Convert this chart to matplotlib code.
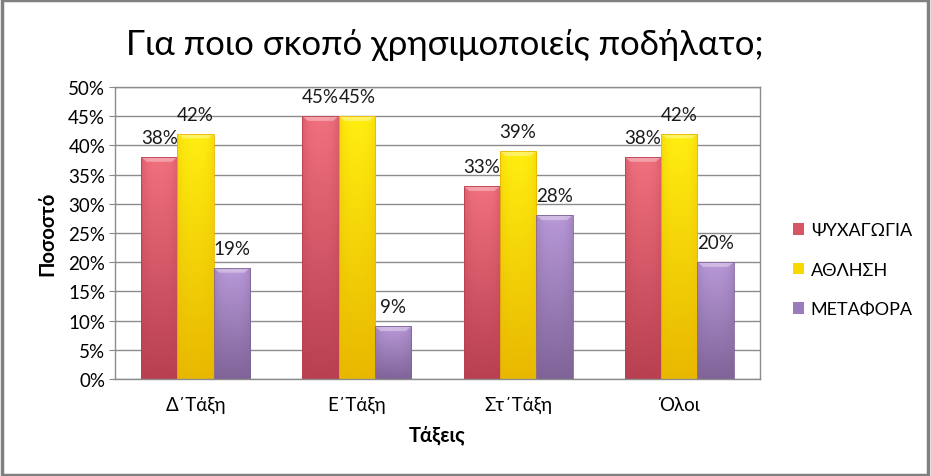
import matplotlib
matplotlib.use("Agg")
import matplotlib.pyplot as plt
import numpy as np
from matplotlib.colors import LinearSegmentedColormap
from matplotlib.patches import Rectangle

plt.rcParams['font.family'] = ['Lato', 'DejaVu Sans']

categories = ["Δ΄Τάξη", "Ε΄Τάξη", "Στ΄Τάξη", "Όλοι"]
series_names = ["ΨΥΧΑΓΩΓΙΑ", "ΑΘΛΗΣΗ", "ΜΕΤΑΦΟΡΑ"]
psychagogia = [38, 45, 33, 38]
athlisi = [42, 45, 39, 42]
metafora = [19, 9, 28, 20]
series_values = [psychagogia, athlisi, metafora]
yticks = [0, 5, 10, 15, 20, 25, 30, 35, 40, 45, 50]

colors_top = ["#F0707E", "#FFEE10", "#B898D8"]
colors_bot = ["#B84050", "#E8B800", "#806498"]
base_colors = ["#D85565", "#F8D800", "#9A7CBA"]

fig = plt.figure(figsize=(9.31, 4.77), dpi=100)
ax = fig.add_axes([0.1235, 0.2034, 0.6928, 0.6121])

x = np.arange(len(categories))
w = 0.225
for i, (vals, name) in enumerate(zip(series_values, series_names)):
    offs = (i - 1) * w
    bars = ax.bar(x + offs, vals, width=w, color=base_colors[i], label=name,
                  edgecolor="none", zorder=2)
    cmap = LinearSegmentedColormap.from_list("g%d" % i, [colors_bot[i], colors_top[i]])
    for b, v in zip(bars, vals):
        x0 = b.get_x(); bw = b.get_width(); h = b.get_height()
        grad = np.linspace(0, 1, 100).reshape(-1, 1)
        horiz = 1 - 0.35 * np.abs(np.linspace(-1, 1, 50)) ** 3
        img = grad * horiz
        im = ax.imshow(img, cmap=cmap, aspect="auto", origin="lower",
                       extent=[x0, x0 + bw, 0, h], zorder=2.1, vmin=0, vmax=1)
        im.set_clip_path(b)
        ax.add_patch(plt.Polygon([[x0, h], [x0 + bw, h], [x0 + bw * 0.85, h - 0.8],
                                  [x0 + bw * 0.15, h - 0.8]], closed=True,
                                 facecolor="white", alpha=0.35, edgecolor="none", zorder=2.2))
        ax.add_patch(Rectangle((x0, 0), bw, h, facecolor="none",
                               edgecolor=colors_bot[i], linewidth=0.6, zorder=2.3))
        ax.text(x0 + bw / 2, h + 1.9, f"{v}%", ha="center", va="bottom",
                fontsize=13.5, color="#1a1a1a", zorder=3)

ax.set_xlim(-0.5, 3.5)
ax.set_ylim(0, 50)
ax.set_yticks(yticks)
ax.set_yticklabels([f"{t}%" for t in yticks], fontsize=13.5)
ax.set_xticks(x)
ax.set_xticklabels(categories, fontsize=13.5)
ax.tick_params(axis="x", length=0, pad=12)
ax.tick_params(axis="y", length=4, color="#888888", pad=3)
ax.yaxis.grid(True, color="#8c8c8c", linewidth=1, zorder=0)
ax.set_axisbelow(True)
for s in ax.spines.values():
    s.set_color("#8c8c8c")
    s.set_linewidth(1)

ax.set_ylabel("Ποσοστό", fontsize=14.5, fontweight="bold", labelpad=8)
ax.set_xlabel("Τάξεις", fontsize=14.5, fontweight="bold", labelpad=8)

fig.text(0.478, 0.905, "Για ποιο σκοπό χρησιμοποιείς ποδήλατο;", ha="center",
         va="center", fontsize=25)

handles, labels = ax.get_legend_handles_labels()
leg = fig.legend(handles, labels, loc="center left", bbox_to_anchor=(0.834, 0.432),
                 frameon=False, fontsize=13, handlelength=0.6, handleheight=0.6,
                 labelspacing=1.3, handletextpad=0.4)

fig.patches.append(Rectangle((0.002, 0.003), 0.995, 0.994, transform=fig.transFigure,
                             facecolor="none", edgecolor="#808080", linewidth=2.5))

fig.savefig("out.png", dpi=100)
